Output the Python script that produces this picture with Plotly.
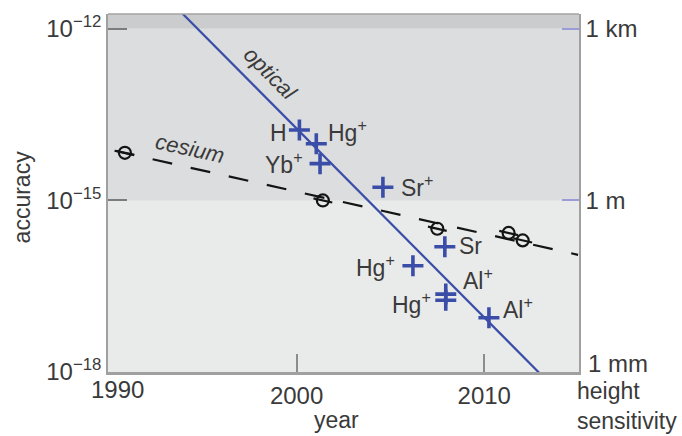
import numpy as np
import plotly.graph_objects as go

# ---- data ---------------------------------------------------------------
# optical clock results (year, fractional frequency accuracy, species)
optical_years = [2000.15, 2001.05, 2001.25, 2004.6, 2006.2, 2007.9, 2007.95, 2007.95, 2010.25]
optical_acc = [1.7e-14, 9.8e-15, 4.4e-15, 1.7e-15, 7.2e-17, 1.55e-16, 2.3e-17, 1.8e-17, 8.9e-18]
optical_names = ["H", "Hg<sup>+</sup>", "Yb<sup>+</sup>", "Sr<sup>+</sup>", "Hg<sup>+</sup>",
                 "Sr", "Al<sup>+</sup>", "Hg<sup>+</sup>", "Al<sup>+</sup>"]

# cesium fountain results
cesium_years = [1990.85, 2001.4, 2007.5, 2011.3, 2012.05]
cesium_acc = [6.8e-15, 1.0e-15, 3.2e-16, 2.7e-16, 2.0e-16]

# trend lines (end points)
optical_trend_years = [1990.0, 2015.0]
optical_trend_acc = [3.65e-11, 2.0e-19]
cesium_trend_years = [1990.3, 2015.0]
cesium_trend_acc = [7.4e-15, 1.12e-16]

# axes
year_ticks = [2000, 2010]
acc_ticks = [1e-18, 1e-15, 1e-12]
acc_tick_text = ["10<sup>\u221218</sup>", "10<sup>\u221215</sup>", "10<sup>\u221212</sup>"]
height_ticks = [1e-15, 1e-12]
height_tick_text = ["1 m", "1 km"]

# ---- style --------------------------------------------------------------
FONT = "Liberation Sans"
TXT = "#3a3a3a"
BLUE = "#3a4ea8"
INK = "#141414"

# label offsets (pixels) for each optical point: (dx, dy)
label_offsets = [(-21, -3), (31, 13), (-36, 1), (34, 1), (-37, 0), (26, 1), (32, 15), (-34, -3), (29, 10)]

fig = go.Figure()

# optical trend
fig.add_trace(go.Scatter(
    x=optical_trend_years, y=optical_trend_acc, mode="lines",
    line=dict(color=BLUE, width=2.2), hoverinfo="skip", showlegend=False))

# cesium trend (dashed)
fig.add_trace(go.Scatter(
    x=cesium_trend_years, y=cesium_trend_acc, mode="lines",
    line=dict(color=INK, width=2.2, dash="20px,19px"), hoverinfo="skip", showlegend=False))

# short solid strokes through each cesium point, parallel to the trend
slope = (np.log10(cesium_trend_acc[1]) - np.log10(cesium_trend_acc[0])) / (
    cesium_trend_years[1] - cesium_trend_years[0])
seg_x, seg_y = [], []
for yr, a in zip(cesium_years, cesium_acc):
    for d in (-0.5, 0.5):
        seg_x.append(yr + d)
        seg_y.append(10 ** (np.log10(a) + slope * d))
    seg_x.append(None)
    seg_y.append(None)
fig.add_trace(go.Scatter(
    x=seg_x, y=seg_y, mode="lines", line=dict(color=INK, width=2.2),
    hoverinfo="skip", showlegend=False))

# cesium points
fig.add_trace(go.Scatter(
    x=cesium_years, y=cesium_acc, mode="markers",
    marker=dict(symbol="circle-open", size=12, color=INK, line=dict(width=2.2, color=INK)),
    showlegend=False))

# optical points
fig.add_trace(go.Scatter(
    x=optical_years, y=optical_acc, mode="markers",
    marker=dict(symbol="cross-thin", size=15, color=BLUE, line=dict(width=3.6, color=BLUE)),
    showlegend=False))

# dummy trace so the right-hand axis is drawn
fig.add_trace(go.Scatter(x=[2000], y=[1e-15], yaxis="y2", mode="markers",
                         marker=dict(opacity=0), hoverinfo="skip", showlegend=False))

annotations = []
for yr, a, name, (dx, dy) in zip(optical_years, optical_acc, optical_names, label_offsets):
    annotations.append(dict(
        x=yr, y=np.log10(a), xref="x", yref="y", text=name, showarrow=False,
        xshift=dx, yshift=dy, xanchor="center", yanchor="middle",
        font=dict(family=FONT, size=23, color=TXT)))

annotations += [
    dict(x=1998.6, y=-12.78, xref="x", yref="y", text="<i>optical</i>", showarrow=False,
         textangle=45, xanchor="center", yanchor="middle",
         font=dict(family=FONT, size=22, color=TXT)),
    dict(x=1994.32, y=-14.10, xref="x", yref="y", text="<i>cesium</i>", showarrow=False,
         textangle=12.5, xanchor="center", yanchor="middle",
         font=dict(family=FONT, size=22, color=TXT)),
    dict(x=-0.183, y=0.49, xref="paper", yref="paper", text="accuracy", showarrow=False,
         textangle=-90, xanchor="center", yanchor="middle",
         font=dict(family=FONT, size=23, color=TXT)),
    dict(x=0.486, y=-0.133, xref="paper", yref="paper", text="year", showarrow=False,
         xanchor="center", yanchor="middle", font=dict(family=FONT, size=23, color=TXT)),
    dict(x=0.9915, y=-0.012, xref="paper", yref="paper", text="height<br>sensitivity",
         showarrow=False, xanchor="left", yanchor="top", align="left",
         font=dict(family=FONT, size=23, color=TXT)),
    dict(x=1.0149, y=0.025, xref="paper", yref="paper", text="1 mm", showarrow=False,
         xanchor="left", yanchor="middle", font=dict(family=FONT, size=24, color=TXT)),
    dict(x=1990, y=-0.05, xref="x", yref="paper", text="1990", showarrow=False,
         xshift=9, xanchor="center", yanchor="middle",
         font=dict(family=FONT, size=24, color=TXT)),
]

shapes = [
    dict(type="rect", xref="paper", x0=0, x1=1, yref="y", y0=1e-12, y1=1e-11,
         fillcolor="#cbcccd", line=dict(width=0), layer="below"),
    dict(type="rect", xref="paper", x0=0, x1=1, yref="y", y0=1e-15, y1=1e-12,
         fillcolor="#dcdddf", line=dict(width=0), layer="below"),
    dict(type="line", xref="paper", x0=0, x1=1, yref="paper", y0=1, y1=1,
         line=dict(color="#a3a3a3", width=1.5)),
]

fig.update_layout(
    width=682, height=436,
    margin=dict(l=108, r=103, t=12, b=64),
    paper_bgcolor="white", plot_bgcolor="#e9eaea",
    showlegend=False,
    font=dict(family=FONT, size=24, color=TXT),
    xaxis=dict(range=[1989.95, 2015.05], tickvals=year_ticks, ticks="inside", ticklen=18,
               tickwidth=1.5, tickcolor="#8c8c8c", showline=True, linecolor="#a0a0a0",
               linewidth=2.5, showgrid=False, zeroline=False,
               tickfont=dict(family=FONT, size=24, color=TXT)),
    yaxis=dict(type="log", range=[-18, -11.74], tickvals=acc_ticks, ticktext=acc_tick_text,
               ticks="inside", ticklen=19, tickwidth=1.5, tickcolor="#7c7c7c",
               showline=True, linecolor="#a0a0a0", linewidth=1.5, showgrid=False,
               zeroline=False, tickfont=dict(family=FONT, size=24, color=TXT)),
    yaxis2=dict(type="log", range=[-18, -11.74], overlaying="y", side="right",
                tickvals=height_ticks, ticktext=height_tick_text, ticks="inside", ticklen=17,
                tickwidth=1.5, tickcolor="#9a9cd8", showline=True, linecolor="#a0a0a0",
                linewidth=1.5, showgrid=False, zeroline=False,
                tickfont=dict(family=FONT, size=24, color=TXT)),
    annotations=annotations,
    shapes=shapes,
)

fig.write_html("out.html")
